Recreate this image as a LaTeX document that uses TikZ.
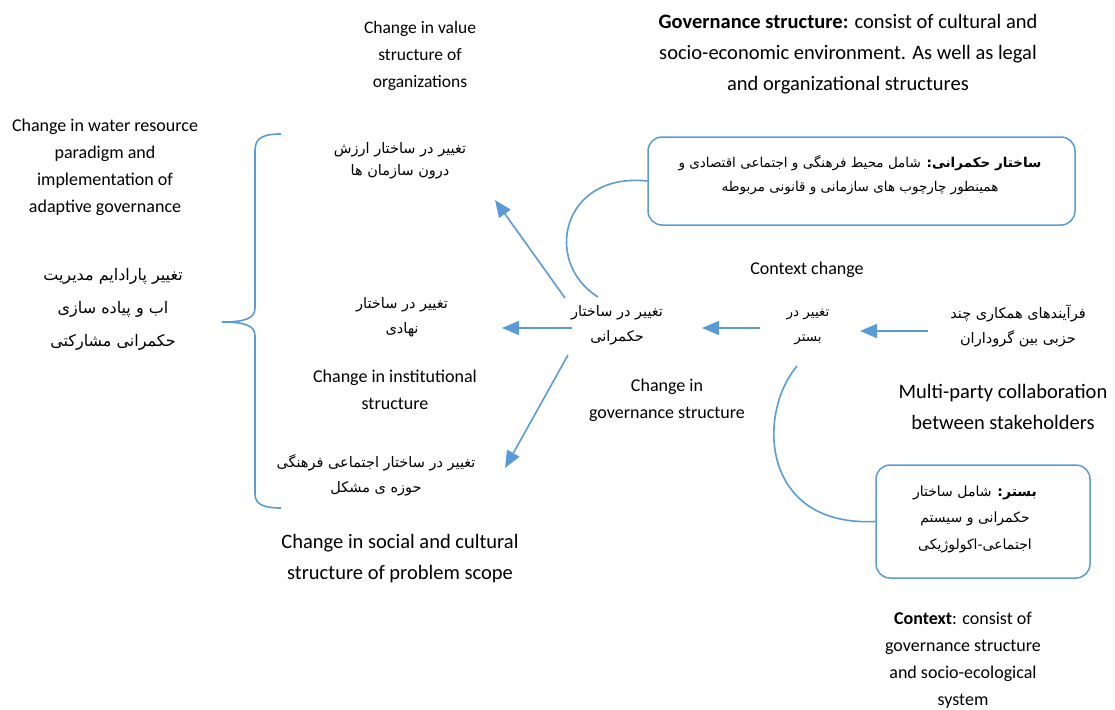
\documentclass[tikz,border=0pt]{standalone}
\usepackage{fontspec}
\setmainfont{Carlito}
\newfontfamily\arabicfont[Script=Arabic]{DejaVu Sans}
\TeXXeTstate=1
\usetikzlibrary{arrows.meta}
\newcommand{\fa}[1]{\beginR #1\endR}
\definecolor{lineblue}{RGB}{91,155,213}
\begin{document}
\begin{tikzpicture}[x=1pt,y=-1pt,
  conn/.style={draw=lineblue, line width=1.6pt},
  arr/.style={conn, -{Triangle[length=17pt,width=14pt]}},
  ensm/.style={font=\fontsize{18}{27}\selectfont, align=center, inner sep=0pt},
  enbig/.style={font=\fontsize{20.5}{31}\selectfont, align=center, inner sep=0pt},
  fatext/.style={font=\arabicfont\fontsize{14.5}{25}\selectfont, align=center, inner sep=0pt},
  boxnode/.style={draw=lineblue, line width=1.5pt, rounded corners=14pt, inner sep=0pt}
]
\useasboundingbox (0,0) rectangle (1115,709);

% top texts
\node[ensm, font=\fontsize{17.5}{27}\selectfont] (valen) at (420,56) {Change in value\\structure of\\organizations};
\node[enbig] (goven) at (848,54) {\textbf{Governance structure:} consist of cultural and\\socio-economic environment. As well as legal\\and organizational structures};

% box 1
\node[boxnode, minimum width=427pt, minimum height=88pt] (box1) at (861.5,181) {};
\node[fatext, font=\arabicfont\fontsize{13.5}{24}\selectfont] (box1t) at (860,175) {\fa{\textbf{ساختار حکمرانی:} شامل محیط فرهنگی و اجتماعی اقتصادی و}\\\fa{همینطور چارچوب های سازمانی و قانونی مربوطه}};

% box 2
\node[boxnode, minimum width=214pt, minimum height=113pt] (box2) at (983,521.5) {};
\node[fatext, font=\arabicfont\fontsize{14}{26.5}\selectfont] (box2t) at (975,519) {\fa{\textbf{بستر:} شامل ساختار}\\\fa{حکمرانی و سیستم}\\\fa{اجتماعی-اکولوژیکی}};

% left side
\node[ensm] (wateren) at (105,167) {Change in water resource\\paradigm and\\implementation of\\adaptive governance};
\node[fatext, font=\arabicfont\fontsize{16}{33}\selectfont] (waterfa) at (113,309) {\fa{تغییر پارادایم مدیریت}\\\fa{اب و پیاده سازی}\\\fa{حکمرانی مشارکتی}};

% brace
\draw[conn] (281,134) .. controls (265,134) and (255,137) .. (255,150) -- (255,308)
  .. controls (255,318) and (246,322) .. (222,322)
  .. controls (246,322) and (255,326) .. (255,336) -- (255,494)
  .. controls (255,505) and (265,508) .. (281,508);

% middle column
\node[fatext, font=\arabicfont\fontsize{14.5}{22}\selectfont] (valfa) at (400,161) {\fa{تغییر در ساختار ارزش}\\\fa{درون سازمان ها}};
\node[fatext] (instfa) at (402,317) {\fa{تغییر در ساختار}\\\fa{نهادی}};
\node[ensm] (insten) at (395,390) {Change in institutional\\structure};
\node[fatext] (socfa) at (376,475) {\fa{تغییر در ساختار اجتماعی فرهنگی}\\\fa{حوزه ی مشکل}};
\node[enbig] (socen) at (400,559) {Change in social and cultural\\structure of problem scope};

% center
\node[fatext] (gov) at (617,325) {\fa{تغییر در ساختار}\\\fa{حکمرانی}};
\node[ensm] (goven2) at (667,400) {Change in\\governance structure};
\node[ensm] (ctxen) at (807,270) {Context change};
\node[fatext, font=\arabicfont\fontsize{13.5}{25}\selectfont] (ctx) at (808,327) {\fa{تغییر در}\\\fa{بستر}};
\node[fatext] (collab) at (1018,326) {\fa{فرآیندهای همکاری چند}\\\fa{حزبی بین گروداران}};
\node[enbig] (collaben) at (1003,407) {Multi-party collaboration\\between stakeholders};
\node[ensm] (ctxdef) at (963,660) {\textbf{Context}: consist of\\governance structure\\and socio-ecological\\system};

% connectors
\coordinate (g1) at (565,298);
\coordinate (g2) at (572,328);
\coordinate (g3) at (568,355);
\coordinate (t1) at (495,200);
\coordinate (t2) at (502,328);
\coordinate (t3) at (505,468);
\draw[arr] (g1) -- (t1);
\draw[arr] (g2) -- (t2);
\draw[arr] (g3) -- (t3);

\coordinate (c1) at (760,328);
\coordinate (c2) at (702,328);
\draw[arr] (c1) -- (c2);
\coordinate (p1) at (928,331);
\coordinate (p2) at (860,331);
\draw[arr] (p1) -- (p2);

\coordinate (ga) at (598,297);
\draw[conn] (ga) .. controls (542,262) and (562,172) .. (box1.west);
\coordinate (cb) at (797,366);
\draw[conn] (cb) .. controls (756,415) and (762,527) .. (box2.west);
\end{tikzpicture}
\end{document}
